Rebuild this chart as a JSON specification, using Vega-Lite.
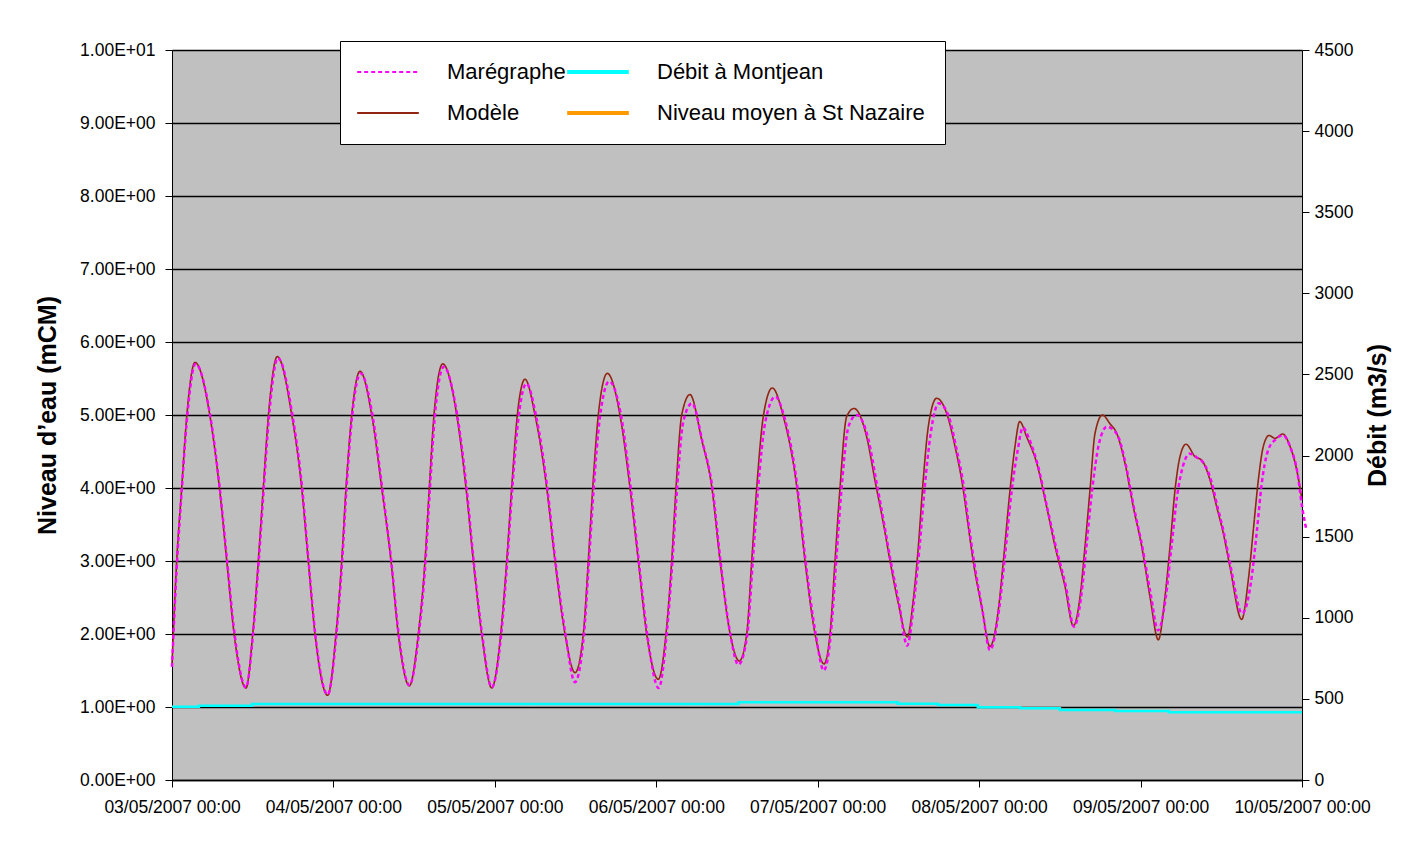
{
  "$schema": "https://vega.github.io/schema/vega-lite/v6.json",
  "width": 1130,
  "height": 730,
  "autosize": {"type": "none"},
  "padding": {"left": 172, "top": 50, "right": 100, "bottom": 63},
  "background": "#ffffff",
  "config": {
    "view": {"fill": "#C0C0C0", "stroke": null},
    "font": "Liberation Sans",
    "axis": {
      "labelFont": "Liberation Sans",
      "labelColor": "#000000",
      "labelFontSize": 17.5,
      "tickColor": "#000000",
      "tickSize": 7,
      "domainColor": "#000000",
      "titleColor": "#000000",
      "titleFont": "Liberation Sans",
      "titleFontWeight": "bold",
      "titleFontSize": 25
    }
  },
  "datasets": {
    "modele": [
      {"h":0,"v":1.6},{"h":0.7,"v":3.0},{"h":1.44,"v":4.0},{"h":2.19,"v":4.98},{"h":3.42,"v":5.72},{"h":5.65,"v":4.98},{"h":7.03,"v":4.02},{"h":8.13,"v":3.01},{"h":9.22,"v":2.01},{"h":11.0,"v":1.26},
      {"h":12.0,"v":2.0},{"h":12.83,"v":3.0},{"h":13.57,"v":4.0},{"h":14.32,"v":4.98},{"h":15.66,"v":5.8},{"h":17.8,"v":5.0},{"h":19.28,"v":4.0},{"h":20.26,"v":3.0},{"h":21.26,"v":2.0},{"h":23.15,"v":1.16},
      {"h":24.38,"v":2.0},{"h":25.23,"v":3.0},{"h":25.87,"v":4.0},{"h":26.72,"v":5.0},{"h":27.95,"v":5.6},{"h":29.69,"v":5.0},{"h":31.18,"v":4.0},{"h":32.56,"v":3.0},{"h":33.64,"v":2.0},{"h":35.28,"v":1.29},
      {"h":36.62,"v":2.0},{"h":37.61,"v":3.0},{"h":38.25,"v":4.0},{"h":38.95,"v":5.0},{"h":40.25,"v":5.7},{"h":42.33,"v":5.0},{"h":43.71,"v":4.0},{"h":44.8,"v":3.0},{"h":46.04,"v":2.0},{"h":47.53,"v":1.26},
      {"h":48.87,"v":2.0},{"h":49.76,"v":3.0},{"h":50.5,"v":4.0},{"h":51.34,"v":5.0},{"h":52.48,"v":5.49},{"h":53.97,"v":5.0},{"h":55.71,"v":4.0},{"h":56.94,"v":3.0},{"h":58.43,"v":2.0},{"h":59.92,"v":1.47},
      {"h":61.15,"v":2.0},{"h":61.89,"v":3.0},{"h":62.55,"v":4.0},{"h":63.38,"v":5.0},{"h":64.72,"v":5.57},{"h":66.6,"v":5.0},{"h":68.09,"v":4.0},{"h":69.33,"v":3.0},{"h":70.57,"v":2.0},{"h":72.3,"v":1.38},
      {"h":73.44,"v":2.0},{"h":74.29,"v":3.0},{"h":74.93,"v":4.0},{"h":75.78,"v":5.0},{"h":77.01,"v":5.28},{"h":78.75,"v":4.66},{"h":80.24,"v":4.02},{"h":81.47,"v":3.01},{"h":82.96,"v":2.01},{"h":84.34,"v":1.63},
      {"h":85.44,"v":2.0},{"h":86.19,"v":3.0},{"h":86.93,"v":4.0},{"h":87.91,"v":4.98},{"h":89.25,"v":5.37},{"h":90.89,"v":4.98},{"h":92.88,"v":4.02},{"h":94.11,"v":3.0},{"h":95.6,"v":2.0},{"h":96.93,"v":1.59},
      {"h":97.83,"v":2.0},{"h":98.57,"v":3.0},{"h":99.31,"v":4.0},{"h":100.31,"v":4.98},{"h":101.39,"v":5.09},{"h":103.28,"v":4.7},{"h":104.52,"v":4.1},{"h":105.75,"v":3.52},{"h":106.75,"v":3.0},{"h":107.98,"v":2.42},{"h":109.32,"v":1.96},
      {"h":110.21,"v":2.47},{"h":110.96,"v":3.2},{"h":111.61,"v":4.02},{"h":112.44,"v":4.84},{"h":113.69,"v":5.23},{"h":115.18,"v":5.02},{"h":116.41,"v":4.57},{"h":117.65,"v":3.97},{"h":118.39,"v":3.47},{"h":119.13,"v":2.99},{"h":120.38,"v":2.37},{"h":121.61,"v":1.83},
      {"h":122.85,"v":2.33},{"h":123.59,"v":2.99},{"h":124.59,"v":3.97},{"h":125.33,"v":4.57},{"h":126.03,"v":4.91},{"h":127.07,"v":4.7},{"h":128.56,"v":4.34},{"h":130.04,"v":3.74},{"h":131.28,"v":3.2},{"h":132.77,"v":2.65},{"h":134.0,"v":2.11},
      {"h":135.0,"v":2.51},{"h":135.74,"v":3.2},{"h":136.48,"v":3.97},{"h":137.23,"v":4.75},{"h":138.34,"v":5.0},{"h":139.45,"v":4.88},{"h":140.45,"v":4.75},{"h":141.68,"v":4.34},{"h":142.92,"v":3.74},{"h":144.17,"v":3.2},{"h":145.4,"v":2.51},{"h":146.64,"v":1.92},
      {"h":147.63,"v":2.51},{"h":148.38,"v":3.2},{"h":149.12,"v":3.97},{"h":149.86,"v":4.43},{"h":150.76,"v":4.6},{"h":152.09,"v":4.43},{"h":153.09,"v":4.38},{"h":154.32,"v":4.11},{"h":155.32,"v":3.74},{"h":156.3,"v":3.38},{"h":157.29,"v":2.92},{"h":159.03,"v":2.2},
      {"h":160.02,"v":2.74},{"h":160.76,"v":3.42},{"h":161.51,"v":4.11},{"h":162.25,"v":4.57},{"h":163.1,"v":4.72},{"h":163.99,"v":4.68},{"h":165.13,"v":4.74},{"h":166.22,"v":4.57},{"h":167.21,"v":4.25},{"h":168.0,"v":3.84}
    ],
    "maregraphe": [
      {"h":0,"v":1.55},{"h":0.7,"v":2.9},{"h":1.44,"v":3.95},{"h":2.19,"v":4.9},{"h":3.5,"v":5.7},{"h":5.7,"v":4.98},{"h":7.1,"v":4.0},{"h":8.2,"v":3.0},{"h":9.3,"v":2.0},{"h":11.0,"v":1.27},
      {"h":12.05,"v":2.0},{"h":12.9,"v":3.0},{"h":13.65,"v":4.0},{"h":14.4,"v":4.95},{"h":15.75,"v":5.78},{"h":17.9,"v":5.0},{"h":19.35,"v":4.0},{"h":20.3,"v":3.0},{"h":21.3,"v":2.0},{"h":23.15,"v":1.17},
      {"h":24.45,"v":2.0},{"h":25.3,"v":3.0},{"h":25.95,"v":4.0},{"h":26.8,"v":5.0},{"h":28.05,"v":5.57},{"h":29.8,"v":5.0},{"h":31.25,"v":4.0},{"h":32.6,"v":3.0},{"h":33.7,"v":2.0},{"h":35.3,"v":1.3},
      {"h":36.7,"v":2.0},{"h":37.7,"v":3.0},{"h":38.35,"v":4.0},{"h":39.05,"v":4.95},{"h":40.4,"v":5.66},{"h":42.4,"v":5.0},{"h":43.8,"v":4.0},{"h":44.85,"v":3.0},{"h":46.1,"v":2.0},{"h":47.55,"v":1.27},
      {"h":48.95,"v":2.0},{"h":49.85,"v":3.0},{"h":50.6,"v":4.0},{"h":51.5,"v":4.95},{"h":52.7,"v":5.43},{"h":54.1,"v":5.0},{"h":55.8,"v":4.0},{"h":57.0,"v":3.0},{"h":58.5,"v":2.0},{"h":59.9,"v":1.34},
      {"h":61.25,"v":2.0},{"h":62.0,"v":3.0},{"h":62.7,"v":4.0},{"h":63.6,"v":4.95},{"h":65.0,"v":5.46},{"h":66.75,"v":5.0},{"h":68.2,"v":4.0},{"h":69.4,"v":3.0},{"h":70.65,"v":2.0},{"h":72.35,"v":1.26},
      {"h":73.55,"v":2.0},{"h":74.4,"v":3.0},{"h":75.1,"v":4.0},{"h":76.0,"v":4.9},{"h":77.3,"v":5.16},{"h":78.9,"v":4.62},{"h":80.35,"v":4.0},{"h":81.55,"v":3.0},{"h":83.0,"v":2.0},{"h":84.2,"v":1.58},
      {"h":85.55,"v":2.0},{"h":86.35,"v":3.0},{"h":87.15,"v":4.0},{"h":88.2,"v":4.9},{"h":89.7,"v":5.25},{"h":91.1,"v":4.95},{"h":93.0,"v":4.0},{"h":94.2,"v":3.0},{"h":95.7,"v":2.0},{"h":96.9,"v":1.5},
      {"h":97.95,"v":2.0},{"h":98.75,"v":3.0},{"h":99.55,"v":4.0},{"h":100.6,"v":4.85},{"h":101.8,"v":5.0},{"h":103.5,"v":4.68},{"h":104.7,"v":4.1},{"h":105.9,"v":3.5},{"h":106.85,"v":3.0},{"h":108.1,"v":2.42},{"h":109.3,"v":1.84},
      {"h":110.35,"v":2.47},{"h":111.15,"v":3.2},{"h":111.9,"v":4.0},{"h":112.8,"v":4.75},{"h":114.0,"v":5.16},{"h":115.4,"v":5.0},{"h":116.6,"v":4.55},{"h":117.8,"v":3.97},{"h":118.5,"v":3.47},{"h":119.25,"v":2.99},{"h":120.45,"v":2.35},{"h":121.6,"v":1.78},
      {"h":122.95,"v":2.33},{"h":123.75,"v":2.99},{"h":124.85,"v":3.97},{"h":125.7,"v":4.5},{"h":126.5,"v":4.83},{"h":127.4,"v":4.68},{"h":128.7,"v":4.32},{"h":130.15,"v":3.72},{"h":131.4,"v":3.2},{"h":132.9,"v":2.65},{"h":134.1,"v":2.1},
      {"h":135.15,"v":2.5},{"h":135.95,"v":3.2},{"h":136.8,"v":3.97},{"h":137.8,"v":4.6},{"h":139.0,"v":4.84},{"h":139.9,"v":4.8},{"h":140.7,"v":4.7},{"h":141.8,"v":4.32},{"h":143.0,"v":3.74},{"h":144.25,"v":3.2},{"h":145.5,"v":2.55},{"h":146.6,"v":2.05},
      {"h":147.75,"v":2.5},{"h":148.6,"v":3.2},{"h":149.45,"v":3.9},{"h":150.3,"v":4.3},{"h":151.3,"v":4.47},{"h":152.5,"v":4.41},{"h":153.3,"v":4.35},{"h":154.5,"v":4.1},{"h":155.45,"v":3.74},{"h":156.4,"v":3.38},{"h":157.4,"v":2.92},{"h":159.1,"v":2.28},
      {"h":160.4,"v":2.7},{"h":161.3,"v":3.42},{"h":162.0,"v":4.05},{"h":162.9,"v":4.5},{"h":164.0,"v":4.66},{"h":165.2,"v":4.72},{"h":166.3,"v":4.55},{"h":167.3,"v":4.22},{"h":168.0,"v":3.75},{"h":168.6,"v":3.45}
    ],
    "debit": [
      {"h":0,"q":452},{"h":4,"q":458},{"h":11.9,"q":468},{"h":84.2,"q":479},{"h":107.9,"q":470},{"h":113.9,"q":462},{"h":119.8,"q":448},{"h":126.1,"q":442},{"h":132,"q":432},{"h":140.2,"q":425},{"h":148.2,"q":417},{"h":168,"q":417}
    ]
  },
  "layer": [
    {
      "layer": [
        {
          "data": {"name": "modele"},
          "mark": {"type": "line", "interpolate": "monotone"},
          "encoding": {
            "x": {
              "field": "h", "type": "quantitative",
              "scale": {"domain": [0, 168], "nice": false, "zero": false},
              "axis": {
                "values": [0, 24, 48, 72, 96, 120, 144, 168],
                "labelExpr": "(datum.value/24+3 < 10 ? '0' : '') + (datum.value/24+3) + '/05/2007 00:00'",
                "title": null, "grid": false, "labelPadding": 11, "domainWidth": 1.5,
                "labelFlush": false, "labelOverlap": false
              }
            },
            "y": {
              "field": "v", "type": "quantitative",
              "scale": {"domain": [0, 10], "nice": false},
              "axis": {
                "values": [0, 1, 2, 3, 4, 5, 6, 7, 8, 9, 10],
                "labelExpr": "datum.value == 10 ? '1.00E+01' : datum.value + '.00E+00'",
                "title": "Niveau d’eau (mCM)",
                "grid": true, "gridColor": "#000000", "gridWidth": 1.5,
                "labelPadding": 10, "titlePadding": 19
              }
            },
            "color": {
              "datum": "Modèle", "type": "nominal",
              "scale": {
                "domain": ["Marégraphe", "Débit à Montjean", "Modèle", "Niveau moyen à St Nazaire"],
                "range": ["#FF00FF", "#00FFFF", "#922414", "#FF9900"]
              },
              "legend": {
                "orient": "none", "legendX": 168, "legendY": -9,
                "columns": 2, "direction": "horizontal",
                "fillColor": "#ffffff", "strokeColor": "#000000", "padding": 20,
                "symbolType": "stroke", "symbolSize": 3800, "symbolOffset": 17,
                "labelFontSize": 22, "labelFont": "Liberation Sans", "labelColor": "#000000",
                "labelLimit": 400, "labelOffset": 48, "columnPadding": -7, "rowPadding": 19,
                "title": null,
                "encode": {
                  "symbols": {
                    "update": {
                      "strokeWidth": {"signal": "datum.value == 'Débit à Montjean' || datum.value == 'Niveau moyen à St Nazaire' ? 4 : 1.8"},
                      "strokeDash": {"signal": "datum.value == 'Marégraphe' ? [6, 5] : [1, 0]"}
                    }
                  }
                }
              }
            },
            "strokeDash": {
              "datum": "Modèle", "type": "nominal",
              "scale": {
                "domain": ["Marégraphe", "Débit à Montjean", "Modèle", "Niveau moyen à St Nazaire"],
                "range": [[4, 3], [1, 0], [1, 0], [1, 0]]
              }
            },
            "strokeWidth": {
              "datum": "Modèle", "type": "nominal",
              "scale": {
                "type": "ordinal",
                "domain": ["Marégraphe", "Débit à Montjean", "Modèle", "Niveau moyen à St Nazaire"],
                "range": [1.6, 3.5, 1.6, 3.5]
              },
              "legend": null
            }
          }
        },
        {
          "data": {"name": "maregraphe"},
          "mark": {"type": "line", "interpolate": "monotone"},
          "encoding": {
            "x": {"field": "h", "type": "quantitative"},
            "y": {"field": "v", "type": "quantitative"},
            "color": {"datum": "Marégraphe", "type": "nominal"},
            "strokeDash": {"datum": "Marégraphe", "type": "nominal"},
            "strokeWidth": {"datum": "Marégraphe", "type": "nominal", "legend": null}
          }
        }
      ]
    },
    {
      "data": {"name": "debit"},
      "mark": {"type": "line", "interpolate": "step-after"},
      "encoding": {
        "x": {"field": "h", "type": "quantitative"},
        "y": {
          "field": "q", "type": "quantitative",
          "scale": {"domain": [0, 4500], "nice": false},
          "axis": {
            "orient": "right",
            "values": [0, 500, 1000, 1500, 2000, 2500, 3000, 3500, 4000, 4500],
            "format": "d",
            "title": "Débit (m3/s)", "titleAngle": -90, "titleBaseline": "top",
            "grid": false, "labelPadding": 5, "titlePadding": 13
          }
        },
        "color": {"datum": "Débit à Montjean", "type": "nominal"},
        "strokeDash": {"datum": "Débit à Montjean", "type": "nominal"},
        "strokeWidth": {"datum": "Débit à Montjean", "type": "nominal", "legend": null}
      }
    }
  ],
  "resolve": {"scale": {"y": "independent"}}
}
